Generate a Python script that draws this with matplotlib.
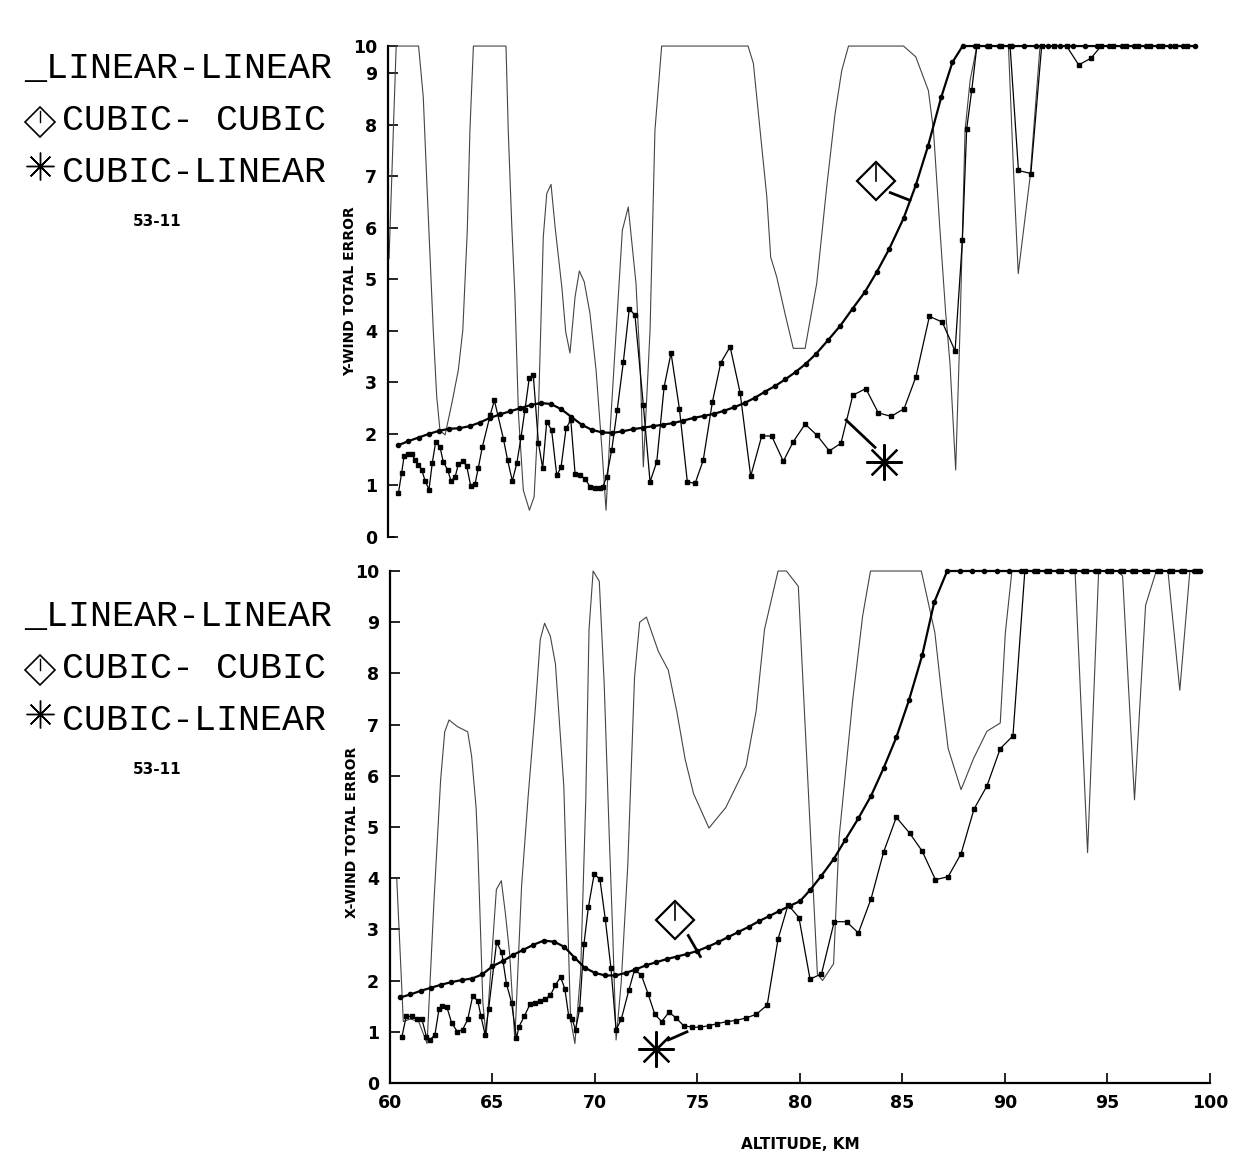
import numpy as np
import matplotlib
matplotlib.use("Agg")
import matplotlib.pyplot as plt
from matplotlib.lines import Line2D

# ---------------- data ----------------
# upper panel : Y-WIND total error
top_alt_ll = [60.05, 60.4, 61.5, 61.73, 61.9, 62.22, 62.39, 62.55, 62.8, 63.13, 63.45, 63.67,
              63.89, 64.02, 64.19, 65.79, 65.9, 66.07, 66.23, 66.4, 66.64, 66.94, 67.17, 67.38,
              67.62, 67.79, 68.0, 68.2, 68.53, 68.72, 68.93, 69.18, 69.39, 69.63, 69.91, 70.21,
              70.49, 70.7, 70.9, 71.22, 71.5, 71.79, 72.17, 72.37, 72.53, 72.86, 73.1, 73.43,
              77.67, 77.93, 78.26, 78.59, 78.78, 79.08, 79.48, 79.89, 80.47, 81.04, 81.53, 81.94,
              82.27, 82.6, 85.3, 85.9, 86.52, 86.77, 87.09, 87.37, 87.58, 87.86, 88.07, 88.32,
              88.57, 88.9, 90.45, 90.69, 90.93, 91.51, 92.0, 99.6]
top_val_ll = [5.4, 10.0, 10.0, 8.53, 6.92, 4.01, 2.72, 2.07, 1.98, 2.59, 3.24, 4.01,
              5.95, 7.89, 10.0, 10.0, 7.89, 6.08, 4.66, 2.40, 0.91, 0.52, 0.78, 2.40,
              5.82, 6.66, 6.84, 6.01, 4.85, 3.98, 3.57, 4.66, 5.16, 4.95, 4.34, 3.24,
              1.75, 0.52, 2.07, 4.14, 5.95, 6.40, 4.92, 3.37, 1.36, 4.01, 7.89, 10.0,
              10.0, 9.36, 7.89, 6.6, 5.43, 5.04, 4.34, 3.66, 3.66, 4.92, 6.79, 8.21,
              9.1, 10.0, 10.0, 9.6, 8.66, 7.89, 5.95, 4.34, 3.37, 1.30, 4.01, 7.89,
              8.86, 10.0, 10.0, 7.18, 5.11, 6.98, 10.0, 10.0]

top_alt_cc = [60.5, 61.0, 61.5, 62.0, 62.5, 63.0, 63.5, 64.0, 64.5, 65.0, 65.5, 66.0,
              66.5, 67.0, 67.5, 68.0, 68.5, 69.0, 69.5, 70.0, 70.5, 71.0, 71.5, 72.0,
              72.5, 73.0, 73.5, 74.0, 74.5, 75.0, 75.5, 76.0, 76.5, 77.0, 77.5, 78.0,
              78.5, 79.0, 79.5, 80.0, 80.5, 81.0, 81.6, 82.2, 82.8, 83.4, 84.0, 84.6,
              85.3, 85.9, 86.5, 87.15, 87.7, 88.2, 88.8, 89.4, 90.0, 90.6, 91.2, 91.8,
              92.4, 93.0, 93.6, 94.2, 94.8, 95.4, 96.0, 96.6, 97.2, 97.8, 98.4, 99.0, 99.6]
top_val_cc = [1.78, 1.86, 1.93, 2.00, 2.06, 2.10, 2.11, 2.15, 2.22, 2.31, 2.38, 2.44,
              2.50, 2.56, 2.60, 2.58, 2.48, 2.33, 2.18, 2.08, 2.03, 2.02, 2.05, 2.09,
              2.12, 2.15, 2.18, 2.21, 2.26, 2.31, 2.35, 2.39, 2.45, 2.52, 2.60, 2.70,
              2.82, 2.93, 3.06, 3.20, 3.36, 3.55, 3.82, 4.10, 4.43, 4.75, 5.15, 5.59,
              6.18, 6.82, 7.58, 8.53, 9.4, 10.0, 10.0, 10.0, 10.0, 10.0, 10.0, 10.0,
              10.0, 10.0, 10.0, 10.0, 10.0, 10.0, 10.0, 10.0, 10.0, 10.0, 10.0, 10.0, 10.0]

top_alt_cl = [60.51, 60.67, 60.79, 61.0, 61.16, 61.33, 61.49, 61.65, 61.82, 62.01, 62.17, 62.34,
              62.55, 62.71, 62.93, 63.09, 63.29, 63.45, 63.67, 63.86, 64.06, 64.27, 64.43, 64.63,
              65.01, 65.22, 65.66, 65.87, 66.1, 66.32, 66.53, 66.72, 66.93, 67.13, 67.38, 67.59,
              67.79, 68.03, 68.28, 68.49, 68.74, 68.97, 69.18, 69.42, 69.67, 69.91, 70.16, 70.4,
              70.55, 70.73, 70.98, 71.25, 71.55, 71.84, 72.12, 72.53, 72.86, 73.19, 73.55, 73.89,
              74.3, 74.69, 75.07, 75.47, 75.92, 76.33, 76.79, 77.28, 77.8, 78.34, 78.83, 79.4,
              79.89, 80.47, 81.04, 81.66, 82.23, 82.81, 83.45, 84.06, 84.69, 85.33, 85.91, 86.57,
              87.2, 87.83, 88.19, 88.4, 88.65, 88.9, 89.5, 90.1, 90.53, 90.94, 91.55, 92.08,
              92.7, 93.3, 93.9, 94.5, 95.0, 95.6, 96.2, 96.8, 97.4, 98.0, 98.6, 99.2]
top_val_cl = [0.85, 1.25, 1.57, 1.61, 1.61, 1.49, 1.40, 1.31, 1.09, 0.92, 1.43, 1.85,
              1.75, 1.46, 1.30, 1.09, 1.16, 1.41, 1.47, 1.38, 0.99, 1.03, 1.34, 1.75,
              2.36, 2.65, 1.91, 1.49, 1.09, 1.43, 1.94, 2.47, 3.08, 3.14, 1.83, 1.34,
              2.24, 2.07, 1.20, 1.35, 2.11, 2.27, 1.23, 1.20, 1.13, 0.98, 0.95, 0.95,
              0.98, 1.17, 1.69, 2.47, 3.40, 4.43, 4.30, 2.56, 1.07, 1.46, 2.91, 3.57,
              2.49, 1.07, 1.04, 1.49, 2.62, 3.38, 3.69, 2.80, 1.18, 1.96, 1.96, 1.47,
              1.85, 2.19, 1.98, 1.67, 1.82, 2.75, 2.88, 2.41, 2.34, 2.49, 3.11, 4.28,
              4.17, 3.61, 5.76, 7.92, 8.67, 10.0, 10.0, 10.0, 10.0, 7.11, 7.05, 10.0,
              10.0, 10.0, 9.3, 9.55, 10.0, 10.0, 10.0, 10.0, 10.0, 10.0, 10.0, 10.0]

# lower panel : X-WIND total error
bot_alt_ll = [60.33, 60.65, 61.0, 61.4, 61.81, 62.14, 62.47, 62.67, 62.88, 63.29, 63.79, 63.98,
              64.2, 64.28, 64.53, 64.69, 65.19, 65.43, 65.63, 65.84, 66.09, 66.42, 66.75, 67.08,
              67.33, 67.54, 67.82, 68.07, 68.48, 68.81, 69.02, 69.3, 69.55, 69.71, 69.91, 70.21,
              70.45, 70.7, 70.86, 71.03, 71.28, 71.6, 71.93, 72.18, 72.51, 73.09, 73.58, 73.99,
              74.4, 74.81, 75.56, 76.38, 77.37, 77.86, 78.27, 78.93, 79.34, 79.92, 80.11, 80.52,
              80.85, 81.1, 81.64, 81.91, 82.57, 83.06, 83.44, 85.92, 86.25, 86.58, 86.91, 87.23,
              87.86, 88.46, 89.12, 89.77, 90.02, 90.34, 93.42, 94.03, 94.57, 95.5, 95.74, 96.32,
              96.86, 97.38, 97.95, 98.53, 99.02, 99.5]
bot_val_ll = [3.98, 1.2, 1.25, 1.2, 0.77, 3.51, 5.92, 6.86, 7.09, 6.96, 6.86, 6.39,
              5.38, 4.65, 1.57, 0.9, 3.78, 3.95, 3.31, 2.51, 0.84, 3.85, 5.65, 7.26,
              8.66, 8.98, 8.73, 8.19, 5.79, 1.24, 0.77, 2.17, 5.52, 8.86, 10.0, 9.8,
              7.79, 4.78, 2.98, 0.84, 1.97, 4.25, 7.93, 9.0, 9.1, 8.43, 8.06, 7.26,
              6.32, 5.65, 4.98, 5.38, 6.19, 7.26, 8.86, 10.0, 10.0, 9.7, 8.13, 4.8,
              2.13, 2.0, 2.33, 4.8, 7.47, 9.13, 10.0, 10.0, 9.4, 8.8, 7.6, 6.53,
              5.73, 6.33, 6.87, 7.03, 8.8, 10.0, 10.0, 4.5, 10.0, 10.0, 9.9, 5.53,
              9.33, 10.0, 10.0, 7.67, 10.0, 10.0]

bot_alt_cc = [60.5, 61.0, 61.5, 62.0, 62.5, 63.0, 63.5, 64.0, 64.5, 65.0, 65.5, 66.0,
              66.5, 67.0, 67.5, 68.0, 68.5, 69.0, 69.5, 70.0, 70.5, 71.0, 71.5, 72.0,
              72.5, 73.0, 73.5, 74.0, 74.5, 75.0, 75.5, 76.0, 76.5, 77.0, 77.5, 78.0,
              78.5, 79.0, 79.5, 80.0, 80.5, 81.05, 81.64, 82.21, 82.85, 83.47, 84.08, 84.7,
              85.32, 85.96, 86.55, 87.18, 87.8, 88.4, 89.0, 89.6, 90.2, 90.8, 91.4, 92.0,
              92.6, 93.2, 93.8, 94.4, 95.0, 95.6, 96.2, 96.8, 97.4, 98.0, 98.6, 99.2, 99.5]
bot_val_cc = [1.67, 1.73, 1.80, 1.86, 1.92, 1.97, 2.01, 2.04, 2.12, 2.28, 2.38, 2.50,
              2.60, 2.70, 2.78, 2.76, 2.66, 2.45, 2.25, 2.15, 2.10, 2.10, 2.15, 2.22,
              2.30, 2.36, 2.42, 2.47, 2.52, 2.58, 2.66, 2.75, 2.85, 2.95, 3.05, 3.16,
              3.26, 3.36, 3.46, 3.55, 3.77, 4.05, 4.37, 4.75, 5.17, 5.61, 6.15, 6.75,
              7.48, 8.35, 9.39, 10.0, 10.0, 10.0, 10.0, 10.0, 10.0, 10.0, 10.0, 10.0,
              10.0, 10.0, 10.0, 10.0, 10.0, 10.0, 10.0, 10.0, 10.0, 10.0, 10.0, 10.0, 10.0]

bot_alt_cl = [60.58, 60.79, 61.07, 61.32, 61.56, 61.78, 61.94, 62.19, 62.39, 62.55, 62.77, 63.01,
              63.29, 63.54, 63.79, 64.03, 64.28, 64.44, 64.64, 64.81, 65.2, 65.45, 65.68, 65.93,
              66.17, 66.29, 66.55, 66.83, 67.08, 67.33, 67.57, 67.82, 68.07, 68.32, 68.53, 68.72,
              68.89, 69.05, 69.25, 69.46, 69.68, 69.96, 70.24, 70.5, 70.78, 71.03, 71.28, 71.65,
              71.93, 72.26, 72.59, 72.92, 73.25, 73.61, 73.96, 74.32, 74.73, 75.14, 75.56, 75.97,
              76.46, 76.87, 77.37, 77.86, 78.4, 78.93, 79.42, 79.95, 80.49, 81.05, 81.67, 82.27,
              82.85, 83.47, 84.08, 84.7, 85.35, 85.96, 86.61, 87.23, 87.86, 88.49, 89.12, 89.77,
              90.39, 90.97, 91.55, 92.15, 92.75, 93.35, 93.95, 94.55, 95.15, 95.75, 96.35, 96.95,
              97.55, 98.15, 98.75, 99.35]
bot_val_cl = [0.90, 1.30, 1.30, 1.25, 1.24, 0.90, 0.84, 0.94, 1.44, 1.50, 1.49, 1.17,
              1.00, 1.04, 1.24, 1.69, 1.61, 1.30, 0.94, 1.44, 2.75, 2.55, 1.94, 1.57,
              0.87, 1.10, 1.30, 1.54, 1.57, 1.61, 1.64, 1.71, 1.91, 2.07, 1.84, 1.30,
              1.24, 1.04, 1.44, 2.71, 3.44, 4.08, 3.98, 3.21, 2.24, 1.04, 1.24, 1.81,
              2.21, 2.11, 1.74, 1.34, 1.20, 1.38, 1.27, 1.12, 1.09, 1.09, 1.12, 1.16,
              1.20, 1.22, 1.27, 1.34, 1.52, 2.81, 3.48, 3.23, 2.03, 2.13, 3.15, 3.15,
              2.93, 3.60, 4.51, 5.19, 4.88, 4.53, 3.97, 4.03, 4.48, 5.35, 5.80, 6.53,
              6.78, 10.0, 10.0, 10.0, 10.0, 10.0, 10.0, 10.0, 10.0, 10.0, 10.0, 10.0,
              10.0, 10.0, 10.0, 10.0]

yticks = [0, 1, 2, 3, 4, 5, 6, 7, 8, 9, 10]
xticks = [60, 65, 70, 75, 80, 85, 90, 95, 100]
legend_names = ["_LINEAR-LINEAR", "CUBIC- CUBIC", "CUBIC-LINEAR"]
run_id = "53-11"


# the scanned upper panel squeezes the 9..10 band
def squeeze(v):
    v = np.asarray(v, dtype=float)
    return np.where(v <= 9, v, 9 + (v - 9) * 0.523)


def unsqueeze(u):
    u = np.asarray(u, dtype=float)
    return np.where(u <= 9, u, 9 + (u - 9) / 0.523)


def draw_series(ax, ll, cc, cl):
    ax.plot(ll[0], ll[1], '-', color='#444444', lw=0.8, clip_on=False, zorder=2)
    ax.plot(cl[0], cl[1], '-s', color='black', lw=0.9, ms=3.2, clip_on=False, zorder=3)
    ax.plot(cc[0], cc[1], '-o', color='black', lw=1.6, ms=3.0, clip_on=False, zorder=4)


def diamond(ax, x, y, size):
    ax.plot([x], [y], marker='D', ms=size, mfc='white', mec='black', mew=1.6,
            clip_on=False, zorder=6)


def style_axis(ax, bottom=True):
    ax.set_xlim(60, 100)
    ax.set_ylim(0, 10)
    ax.set_yticks(yticks)
    ax.spines['top'].set_visible(False)
    ax.spines['right'].set_visible(False)
    ax.spines['left'].set_linewidth(1.6)
    ax.tick_params(direction='in', length=7, width=1.2, labelsize=12.5, pad=8)
    for lab in ax.get_yticklabels():
        lab.set_fontweight('bold')
    if bottom:
        ax.spines['bottom'].set_linewidth(1.6)
        ax.set_xticks(xticks)
        for lab in ax.get_xticklabels():
            lab.set_fontweight('bold')
    else:
        ax.spines['bottom'].set_visible(False)
        ax.set_xticks([])


fig = plt.figure(figsize=(12.33, 11.51), dpi=100)

# ---- upper panel ----
ax1 = fig.add_axes([0.3147, 0.5334, 0.661, 0.4266])
ax1.set_yscale('function', functions=(squeeze, unsqueeze))
draw_series(ax1, (top_alt_ll, top_val_ll), (top_alt_cc, top_val_cc), (top_alt_cl, top_val_cl))
style_axis(ax1, bottom=False)
ax1.plot([60, 60.3], [0, 0], color='black', lw=1.2, clip_on=False)
ax1.set_ylabel("Y-WIND TOTAL ERROR", fontsize=10, fontweight='bold')
ax1.yaxis.set_label_coords(-0.038, 0.5)
diamond(ax1, 83.95, 6.9, 19)
ax1.plot([83.95, 83.95], [6.9, 7.22], color='black', lw=1.2, zorder=7)
ax1.plot([84.65, 85.62], [6.68, 6.53], color='black', lw=2)
ax1.plot([84.34], [1.45], marker=(8, 2, 0), ms=26, mec='black', mew=1.6)
ax1.plot([82.48, 83.9], [2.27, 1.74], color='black', lw=2)

# ---- lower panel ----
ax2 = fig.add_axes([0.3163, 0.0591, 0.665, 0.4448])
draw_series(ax2, (bot_alt_ll, bot_val_ll), (bot_alt_cc, bot_val_cc), (bot_alt_cl, bot_val_cl))
style_axis(ax2, bottom=True)
ax2.set_ylabel("X-WIND TOTAL ERROR", fontsize=10, fontweight='bold')
ax2.yaxis.set_label_coords(-0.038, 0.49)
ax2.set_xlabel("ALTITUDE, KM", fontsize=11, fontweight='bold', labelpad=18)
diamond(ax2, 73.91, 3.18, 19)
ax2.plot([73.91, 73.91], [3.18, 3.5], color='black', lw=1.2, zorder=7)
ax2.plot([74.55, 75.14], [2.88, 2.47], color='black', lw=2)
ax2.plot([73.0], [0.67], marker=(8, 2, 0), ms=26, mec='black', mew=1.6)
ax2.plot([73.58, 74.49], [0.84, 1.0], color='black', lw=2)

# ---- left hand legends (plotter lettering) ----
font = dict(family=['Liberation Mono', 'DejaVu Sans Mono'], fontsize=26.5)
H = 1151.0
for top in (0.0, 548.0):
    fig.text(24 / 1233, 1 - (top + 78) / H, legend_names[0], **font)
    fig.text(62 / 1233, 1 - (top + 130) / H, legend_names[1], **font)
    fig.text(62 / 1233, 1 - (top + 182) / H, legend_names[2], **font)
    fig.text(157 / 1233, 1 - (top + 222) / H, run_id, fontsize=11, fontweight='bold',
             ha='center', va='center')
    dx, dy = 40 / 1233, 1 - (top + 122) / H
    fig.add_artist(Line2D([dx], [dy], marker='D', ms=15, mfc='white', mec='black',
                          mew=1.2, transform=fig.transFigure))
    fig.add_artist(Line2D([dx, dx], [dy, dy + 11 / H], color='black', lw=1,
                          transform=fig.transFigure))
    sx, sy = 40 / 1233, 1 - (top + 166) / H
    fig.add_artist(Line2D([sx], [sy], marker=(8, 2, 0), ms=20, mec='black', mew=1.0,
                          transform=fig.transFigure))
    fig.add_artist(Line2D([sx], [sy], marker='o', ms=3, color='black',
                          transform=fig.transFigure))

fig.savefig("out.png", dpi=100)
